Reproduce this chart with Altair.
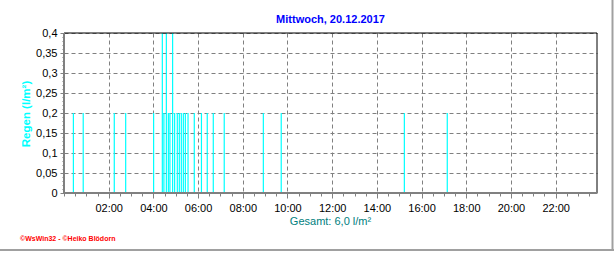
import altair as alt
import pandas as pd

# rain events: time of day in hours, amount in l/m²
times = [0.42, 0.86, 2.25, 2.76, 4.01, 4.40, 4.47, 4.58, 4.67, 4.74, 4.86, 4.95,
         5.07, 5.16, 5.25, 5.34, 5.43, 5.55, 5.83, 6.15, 6.41, 6.68, 7.17, 8.92,
         9.72, 15.23, 17.15]
amounts = [0.2, 0.2, 0.2, 0.2, 0.2, 0.4, 0.2, 0.4, 0.2, 0.2, 0.4, 0.2,
           0.2, 0.2, 0.2, 0.2, 0.2, 0.2, 0.2, 0.2, 0.2, 0.2, 0.2, 0.2,
           0.2, 0.2, 0.2]
x_major = [2, 4, 6, 8, 10, 12, 14, 16, 18, 20, 22]
x_minor = [i * 0.5 for i in range(48)]
y_major = [0, 0.05, 0.1, 0.15, 0.2, 0.25, 0.3, 0.35, 0.4]
y_minor = [i / 100 for i in range(41)]

title_text = "Mittwoch, 20.12.2017"
ytitle_text = "Regen  (l/m²)"
total_text = "Gesamt: 6,0 l/m²"
credit_text = "©WsWin32 - ©Heiko Blödorn"

df = pd.DataFrame({"t": times, "v": amounts})
one = pd.DataFrame({"k": [0]})

W, H = 533, 160
FONT = "Liberation Sans"
GRAY = "#808080"

xscale = alt.Scale(domain=[0, 23.85], nice=False, zero=False)
yscale = alt.Scale(domain=[0, 0.4], nice=False)

bars = alt.Chart(df).mark_rule(color="#00FFFF", strokeWidth=1.2).encode(
    x=alt.X("t:Q", scale=xscale, axis=alt.Axis(
        values=x_major, orient="bottom", title=None, domain=False,
        grid=True, gridColor=GRAY, gridDash=[4, 3], gridWidth=1,
        tickSize=5, tickColor=GRAY, tickWidth=1,
        labelExpr="(datum.value < 10 ? '0' : '') + datum.value + ':00'",
        labelFont=FONT, labelFontSize=11, labelColor="black", labelPadding=4,
        labelFlush=False, labelOverlap=False)),
    y=alt.Y("v:Q", scale=yscale, axis=alt.Axis(
        values=y_major, orient="left", title=None, domain=False,
        grid=True, gridColor=GRAY, gridDash=[4, 3], gridWidth=1,
        tickSize=4, tickColor=GRAY, tickWidth=1,
        labelExpr="replace(format(datum.value, '.2~f'), '.', ',')",
        labelFont=FONT, labelFontSize=11, labelColor="black", labelPadding=3,
        labelFlush=False, labelOverlap=False)),
    y2=alt.datum(0),
)

minor = alt.Chart(df).mark_point(opacity=0).encode(
    x=alt.X("t:Q", scale=xscale, axis=alt.Axis(
        values=x_minor, orient="bottom", title=None, domain=False, grid=False,
        labels=False, tickSize=3, tickColor=GRAY, tickWidth=1)),
    y=alt.Y("v:Q", scale=yscale, axis=alt.Axis(
        values=y_minor, orient="left", title=None, domain=False, grid=False,
        labels=False, tickSize=2, tickColor=GRAY, tickWidth=1)),
)

top = alt.Chart(one).mark_rule(color="black", strokeWidth=1).encode(
    x=alt.value(0), x2=alt.value(W), y=alt.value(0))
right = alt.Chart(one).mark_rule(color="black", strokeWidth=1).encode(
    x=alt.value(W), y=alt.value(0), y2=alt.value(H))
left = alt.Chart(one).mark_rule(color=GRAY, strokeWidth=2).encode(
    x=alt.value(0), y=alt.value(0), y2=alt.value(H + 1))
bottom = alt.Chart(one).mark_rule(color=GRAY, strokeWidth=2).encode(
    x=alt.value(-1), x2=alt.value(W), y=alt.value(H))

frame_r = alt.Chart(one).mark_rule(color="#A0A0A0", strokeWidth=2).encode(
    x=alt.value(548.5), y=alt.value(-33), y2=alt.value(218))
frame_b = alt.Chart(one).mark_rule(color="#A0A0A0", strokeWidth=2).encode(
    x=alt.value(-64), x2=alt.value(550), y=alt.value(217))

title = alt.Chart(one).mark_text(
    text=title_text, font=FONT, fontSize=11, fontWeight="bold", color="#0000FF",
    align="center", baseline="middle").encode(
    x=alt.value(W / 2), y=alt.value(-13))
ytitle = alt.Chart(one).mark_text(
    text=ytitle_text, font=FONT, fontSize=11.5, fontWeight="bold", color="#00FFFF",
    align="center", baseline="middle", angle=270).encode(
    x=alt.value(-37), y=alt.value(81))
total = alt.Chart(one).mark_text(
    text=total_text, font=FONT, fontSize=11, color="#008080",
    align="center", baseline="middle").encode(
    x=alt.value(W / 2), y=alt.value(189))
credit = alt.Chart(one).mark_text(
    text=credit_text, font=FONT, fontSize=7, fontWeight="bold", color="#FF0000",
    align="left", baseline="middle").encode(
    x=alt.value(-44), y=alt.value(206))

chart = alt.layer(
    bars, minor, top, right, left, bottom, frame_r, frame_b,
    title, ytitle, total, credit
).resolve_axis(x="independent", y="independent").properties(
    width=W, height=H, autosize="none",
    padding={"left": 64, "top": 33, "right": 19, "bottom": 60},
    background="white",
).configure_view(stroke=None)

chart.save("out.html", embed_options={"renderer": "svg", "actions": False})
